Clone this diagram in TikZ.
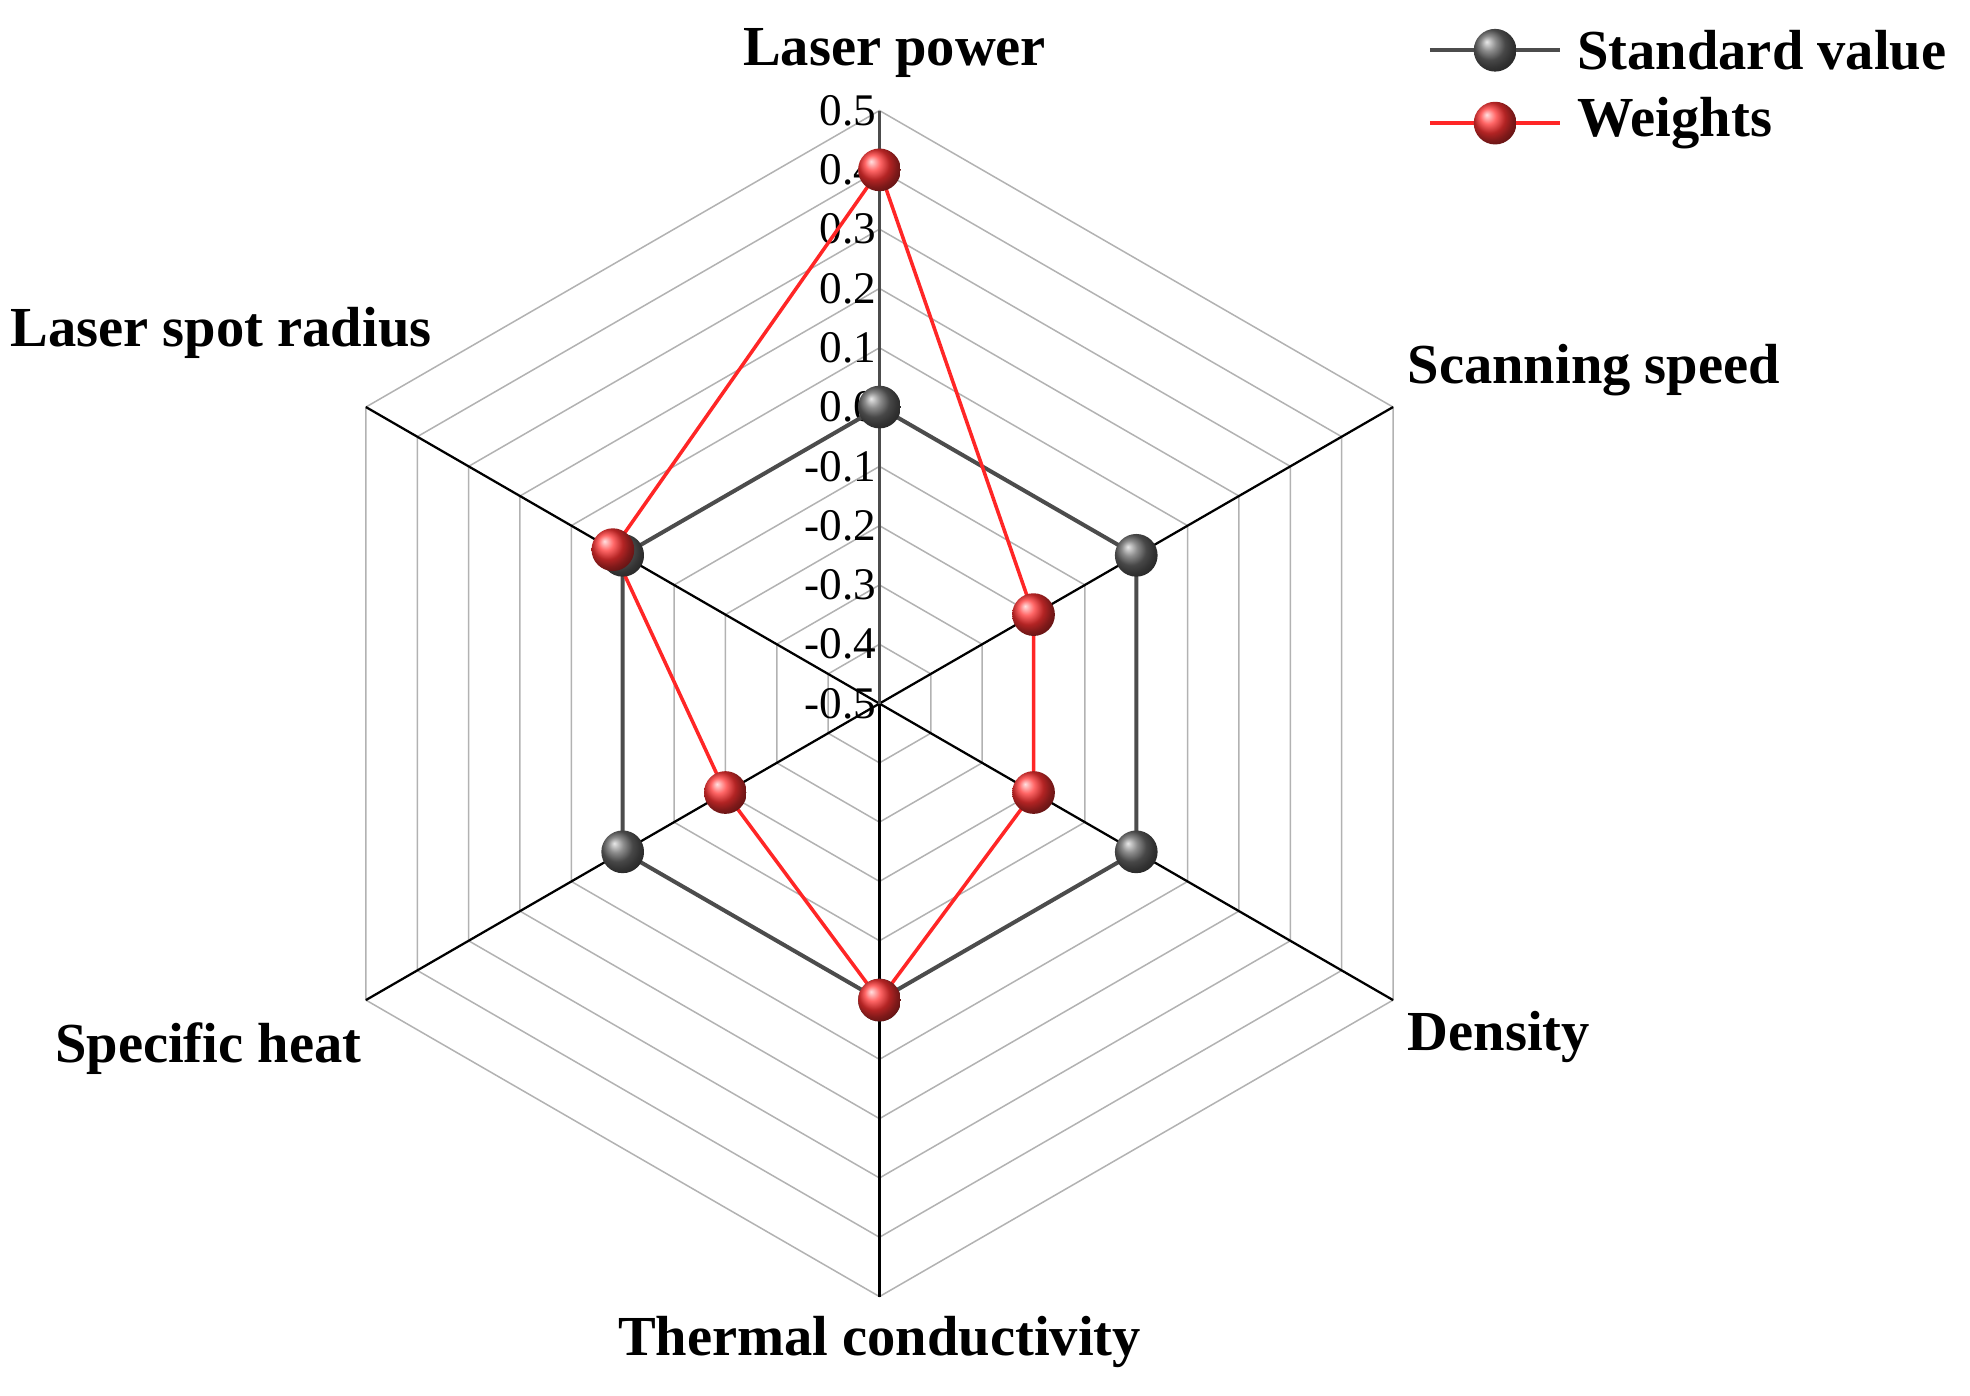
\documentclass[tikz,border=0pt]{standalone}
\usetikzlibrary{calc}
\usepackage{fontspec}
\setmainfont{Liberation Serif}
\begin{document}
\begin{tikzpicture}[x=0.5pt,y=-0.5pt,
 grid/.style={gray!60,line width=0.6pt},
 spoke/.style={black,line width=0.9pt},
 lab/.style={font=\fontsize{22.5}{22.5}\selectfont\bfseries,inner sep=0},
 tick/.style={font=\fontsize{18}{18}\selectfont,anchor=east,inner sep=1pt},
 stdl/.style={draw=black!70,line width=1.6pt},
 wl/.style={draw=red!85!white,line width=1.4pt},
 sb/.style={circle,minimum size=17pt,inner sep=0,shading=ball,ball color=black!60},
 wb/.style={circle,minimum size=17pt,inner sep=0,shading=ball,ball color=red!80!white}]
\useasboundingbox (0,0) rectangle (1568,1111);
\coordinate (O) at (700,560);
% grid rings
\foreach \k in {1,...,10}{
  \draw[grid] ($(O)+(-90:{47.2*\k})$) foreach \a in {-30,30,90,150,-150} {-- ($(O)+(\a:{47.2*\k})$)} -- cycle;
}
\foreach \a in {-30,30,90,150,-150}{ \draw[spoke] (O) -- ($(O)+(\a:472)$); }
\draw[black!70,line width=1.2pt] (O) -- ($(O)+(-90:472)$);
% ticks
\foreach \v [count=\i from 0] in {-0.5,-0.4,-0.3,-0.2,-0.1,0.0,0.1,0.2,0.3,0.4,0.5}{
  \node[tick] at ($(O)+(0,{-47.2*\i})$) {\v};
}
% standard
\foreach \a/\n in {-90/s1,-30/s2,30/s3,90/s4,150/s5,-150/s6}{ \coordinate (\n) at ($(O)+(\a:236)$); }
\draw[stdl] (s1)--(s2)--(s3)--(s4)--(s5)--(s6)--cycle;
% weights
\coordinate (w1) at ($(O)+(-90:424.8)$);
\coordinate (w2) at ($(O)+(-30:141.6)$);
\coordinate (w3) at ($(O)+(30:141.6)$);
\coordinate (w4) at ($(O)+(90:236)$);
\coordinate (w5) at ($(O)+(150:141.6)$);
\coordinate (w6) at ($(O)+(-150:245)$);
\draw[wl] (w1)--(w2)--(w3)--(w4)--(w5)--(w6)--cycle;
\foreach \n in {s1,s2,s3,s4,s5,s6}{ \node[sb] at (\n) {}; }
\foreach \n in {w1,w2,w3,w4,w5,w6}{ \node[wb] at (\n) {}; }
% labels
\node[lab] (L1) at (712,42) {Laser power};
\node[lab,anchor=west] (L2) at (1120,295) {Scanning speed};
\node[lab,anchor=west] (L3) at (1120,825) {Density};
\node[lab] (L4) at (700,1068) {Thermal conductivity};
\node[lab,anchor=east] (L5) at (288,835) {Specific heat};
\node[lab,anchor=west] (L6) at (8,265) {Laser spot radius};
% legend
\coordinate (a1) at (1138,40); \coordinate (a2) at (1242,40);
\coordinate (b1) at (1138,98); \coordinate (b2) at (1242,98);
\draw[stdl] (a1)--(a2); \node[sb] at (1190,40) {};
\draw[wl] (b1)--(b2); \node[wb] at (1190,98) {};
\node[lab,anchor=west] (T1) at (1255,40) {Standard value};
\node[lab,anchor=west] (T2) at (1255,98) {Weights};
\end{tikzpicture}
\end{document}
